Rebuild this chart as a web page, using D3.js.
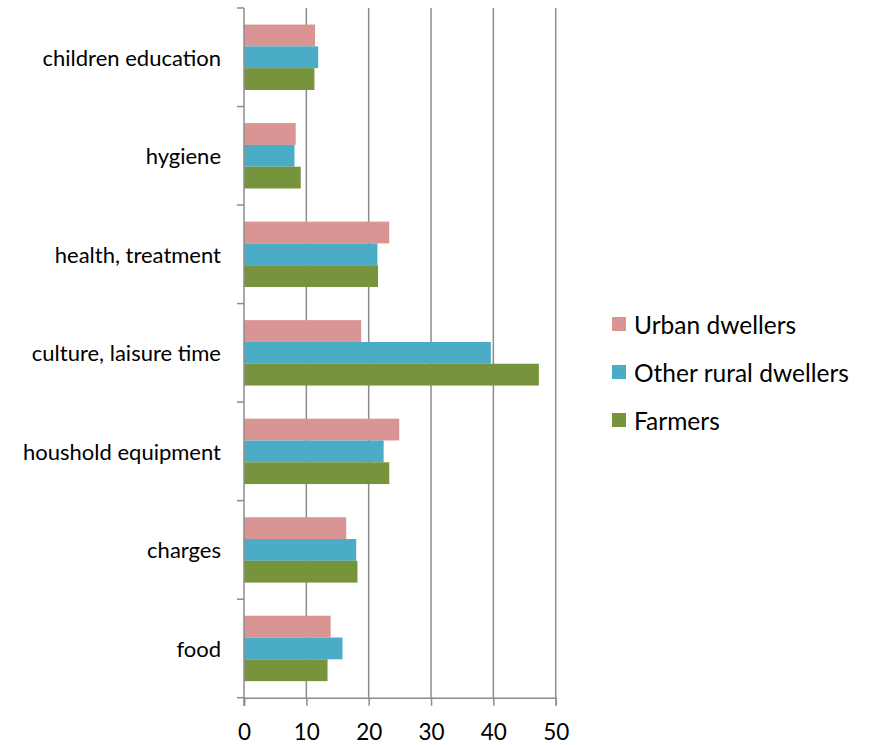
<!DOCTYPE html>
<html>
<head>
<meta charset="utf-8">
<script src="https://cdn.jsdelivr.net/npm/d3@7"></script>
<style>
  html, body { margin: 0; padding: 0; background: #fff; }
  svg text { font-family: Lato, "Open Sans", sans-serif; fill: #000; }
</style>
</head>
<body>
<svg id="chart" width="870" height="745"></svg>
<script>
// Spending categories (top to bottom) and the three population groups
const categories = ["children education", "hygiene", "health, treatment",
  "culture, laisure time", "houshold equipment", "charges", "food"];
const seriesNames = ["Urban dwellers", "Other rural dwellers", "Farmers"];
const urban = [11.4, 8.3, 23.3, 18.8, 24.9, 16.4, 13.9];
const otherRural = [11.9, 8.1, 21.4, 39.6, 22.4, 18.0, 15.8];
const farmers = [11.3, 9.1, 21.5, 47.3, 23.3, 18.2, 13.4];
const xTicks = [0, 10, 20, 30, 40, 50];
const colors = ["#d99594", "#4bacc6", "#77933c"];

const seriesValues = [urban, otherRural, farmers];
const svg = d3.select("#chart");

const plot = { left: 244, right: 555.7, top: 8, bottom: 697.7 };

const x = d3.scaleLinear().domain([0, 50]).range([plot.left, plot.right]);
const y = d3.scaleBand().domain(categories).range([plot.top, plot.bottom])
  .paddingInner(0).paddingOuter(0);
// inner band for grouped bars, leaving a gap around each group
const yInner = d3.scaleBand().domain(seriesNames)
  .range([0, y.bandwidth()]).paddingOuter(0.76).paddingInner(0);

// vertical gridlines
svg.append("g")
  .selectAll("line")
  .data(xTicks.filter(d => d > 0))
  .join("line")
  .attr("x1", d => x(d)).attr("x2", d => x(d))
  .attr("y1", plot.top).attr("y2", plot.bottom)
  .attr("stroke", "#8c8c8c").attr("stroke-width", 1.5);

// bars
const groups = svg.append("g")
  .selectAll("g")
  .data(categories)
  .join("g")
  .attr("transform", d => `translate(0,${y(d)})`);

groups.selectAll("rect")
  .data((c, i) => seriesNames.map((s, j) => ({ s, j, v: seriesValues[j][i] })))
  .join("rect")
  .attr("x", x(0))
  .attr("y", d => yInner(d.s))
  .attr("width", d => x(d.v) - x(0))
  .attr("height", yInner.bandwidth())
  .attr("fill", d => colors[d.j]);

// x axis
const xAxis = svg.append("g")
  .attr("transform", `translate(0,${plot.bottom})`)
  .call(d3.axisBottom(x).tickValues(xTicks).tickSize(8).tickPadding(18));
xAxis.select(".domain").attr("stroke", "#8c8c8c").attr("stroke-width", 1.5);
xAxis.selectAll(".tick line").attr("stroke", "#8c8c8c").attr("stroke-width", 1.5);
xAxis.selectAll("text").style("font-size", "22.5px").attr("fill", "#000");

// y axis with ticks on category boundaries
const yAxisG = svg.append("g").attr("transform", `translate(${plot.left},0)`);
yAxisG.append("line")
  .attr("x1", 0).attr("x2", 0)
  .attr("y1", plot.top).attr("y2", plot.bottom + 8)
  .attr("stroke", "#8c8c8c").attr("stroke-width", 1.5);
const boundaries = categories.map(c => y(c)).concat([plot.bottom]);
yAxisG.selectAll("line.tick")
  .data(boundaries)
  .join("line")
  .attr("class", "tick")
  .attr("x1", -7).attr("x2", 0)
  .attr("y1", d => d).attr("y2", d => d)
  .attr("stroke", "#8c8c8c").attr("stroke-width", 1.5);

svg.append("g")
  .selectAll("text")
  .data(categories)
  .join("text")
  .attr("x", 221)
  .attr("y", d => y(d) + y.bandwidth() / 2)
  .attr("text-anchor", "end")
  .attr("dominant-baseline", "central")
  .style("font-size", "22px")
  .text(d => d);

// legend
const legend = svg.append("g")
  .selectAll("g")
  .data(seriesNames)
  .join("g")
  .attr("transform", (d, i) => `translate(612,${324 + i * 48})`);
legend.append("rect")
  .attr("x", 0).attr("y", -7).attr("width", 14).attr("height", 14)
  .attr("fill", (d, i) => colors[i]);
legend.append("text")
  .attr("x", 22).attr("y", 0)
  .attr("dominant-baseline", "central")
  .style("font-size", "24.5px")
  .text(d => d);
</script>
</body>
</html>
